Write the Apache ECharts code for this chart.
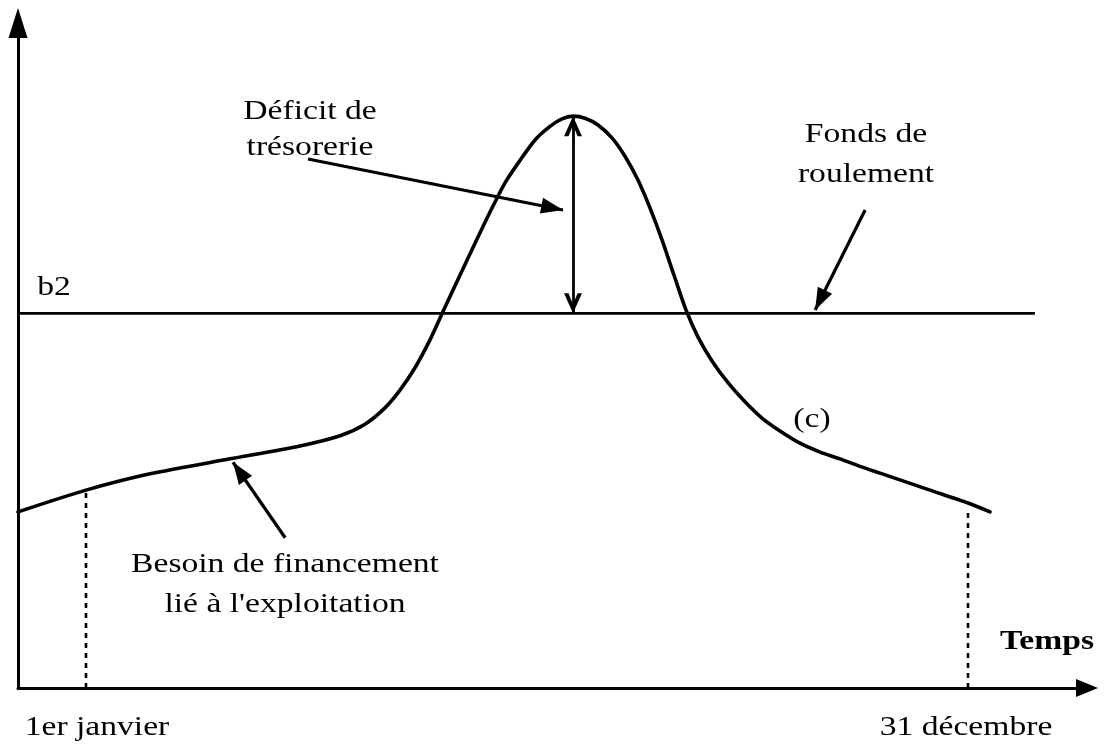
<!DOCTYPE html>
<html>
<head>
<meta charset="utf-8">
<script src="https://cdn.jsdelivr.net/npm/echarts@6/dist/echarts.min.js"></script>
<style>
  html, body { margin: 0; padding: 0; background: #fff; }
  #chart { width: 1108px; height: 747px; }
</style>
</head>
<body>
<div id="chart"></div>
<script>
// temps en mois (0 = 1er janvier, 12 = 31 décembre)
const moisCourbe = [-0.925, 0, 0.871, 1.959, 2.912, 3.456, 3.796, 4.068, 4.272, 4.476, 4.680, 4.884, 5.088, 5.293,
  5.497, 5.701, 5.905, 6.109, 6.313, 6.476, 6.626, 6.789, 6.966, 7.156, 7.333, 7.510, 7.673, 7.837, 8.000, 8.163,
  8.327, 8.517, 8.735, 8.966, 9.197, 9.442, 9.714, 9.986, 10.259, 10.531, 10.803, 11.483, 12.0, 12.299];
// besoin de financement lié à l'exploitation (c)
const besoinValeurs = [25.9, 29.1, 31.5, 33.7, 35.6, 37.1, 38.8, 41.2, 43.8, 47.1, 51.2, 56.0, 60.7, 65.4,
  70.0, 74.3, 77.6, 80.6, 82.6, 83.7, 84.1, 83.8, 82.8, 80.9, 78.2, 74.7, 70.6, 65.9, 60.7, 55.6,
  51.6, 48.1, 44.9, 42.1, 39.7, 37.8, 36.0, 34.7, 33.7, 32.6, 31.6, 29.1, 27.2, 25.9];
// fonds de roulement (b2)
const fondsRoulement = 55.1;
const fondsDebutFin = [-0.925, 12.91];
// repères 1er janvier / 31 décembre
const reperesMois = [0, 12];
const reperesHaut = [29.1, 26.2];
// flèches d'annotation : [x0, y0, x1, y1]
const flecheDeficit = [3.02, 77.8, 6.49, 70.3];
const flecheFonds = [10.60, 70.3, 9.92, 55.6];
const flecheBesoin = [2.71, 22.1, 2.0, 33.2];
const picMois = 6.626;
const picValeur = 84.1;

const police = 'Liberation Serif';
const noir = '#000';

const courbe = moisCourbe.map((m, i) => [m, besoinValeurs[i]]);
const vOuvert = 'path://M0,18 L8,0 L16,18 L12,18 L8,8 L4,18 Z';

function fleche(f) {
  return [{ coord: [f[0], f[1]] }, { coord: [f[2], f[3]] }];
}

function texte(str, x, y, gras) {
  return {
    type: 'text', x: x, y: y, scaleX: 1.2, silent: true,
    style: {
      text: str, x: 0, y: 0, align: 'center', verticalAlign: 'middle',
      fontFamily: police, fontSize: 28, fontWeight: gras ? 'bold' : 'normal', fill: noir
    }
  };
}

let myChart = echarts.init(document.getElementById('chart'));
myChart.setOption({
  animation: false,
  backgroundColor: '#fff',
  grid: { left: 18, right: 21, top: 23, bottom: 59 },
  xAxis: {
    type: 'value', min: -0.925, max: 13.619,
    axisLine: { onZero: false, symbol: ['none', 'triangle'], symbolSize: [18, 22], lineStyle: { color: noir, width: 3 } },
    axisTick: { show: false }, axisLabel: { show: false }, splitLine: { show: false }
  },
  yAxis: {
    type: 'value', min: 0, max: 97.8,
    axisLine: { onZero: false, symbol: ['none', 'triangle'], symbolSize: [19, 30], lineStyle: { color: noir, width: 3 } },
    axisTick: { show: false }, axisLabel: { show: false }, splitLine: { show: false }
  },
  series: [
    {
      name: 'besoin', type: 'line', data: courbe, smooth: 0.25, symbol: 'none', silent: true,
      lineStyle: { color: noir, width: 3.6, join: 'round', cap: 'round' }
    },
    {
      name: 'fonds', type: 'line', symbol: 'none', silent: true,
      data: fondsDebutFin.map(m => [m, fondsRoulement]),
      lineStyle: { color: noir, width: 2.6 }
    },
    {
      name: 'repere1', type: 'line', symbol: 'none', silent: true,
      data: [[reperesMois[0], 0], [reperesMois[0], reperesHaut[0]]],
      lineStyle: { color: noir, width: 2.6, type: [5, 5] }
    },
    {
      name: 'repere2', type: 'line', symbol: 'none', silent: true,
      data: [[reperesMois[1], 0], [reperesMois[1], reperesHaut[1]]],
      lineStyle: { color: noir, width: 2.6, type: [5, 5] }
    },
    {
      name: 'fleches', type: 'line', data: [], silent: true,
      markLine: {
        silent: true, symbol: ['none', 'triangle'], symbolSize: [16, 22],
        symbolOffset: [0, [0, 11]],
        label: { show: false },
        lineStyle: { color: noir, width: 3.2, type: 'solid' },
        data: [fleche(flecheDeficit), fleche(flecheFonds), fleche(flecheBesoin)]
      }
    },
    {
      name: 'deficit', type: 'line', data: [], silent: true,
      markLine: {
        silent: true, symbol: [vOuvert, vOuvert], symbolSize: [18, 20],
        symbolOffset: [[0, 10], [0, 10]],
        label: { show: false },
        lineStyle: { color: noir, width: 2.8, type: 'solid' },
        data: [[{ coord: [picMois, picValeur] }, { coord: [picMois, fondsRoulement] }]]
      }
    }
  ],
  graphic: [
    texte('Déficit de', 310, 112),
    texte('trésorerie', 310, 148),
    texte('Fonds de', 866, 135),
    texte('roulement', 866, 175),
    texte('b2', 54, 288),
    texte('(c)', 812, 420),
    texte('Besoin de financement', 285, 565),
    texte("lié à l'exploitation", 285, 605),
    texte('Temps', 1047, 642, true),
    texte('1er janvier', 97, 728),
    texte('31 décembre', 966, 728)
  ]
});
</script>
</body>
</html>
